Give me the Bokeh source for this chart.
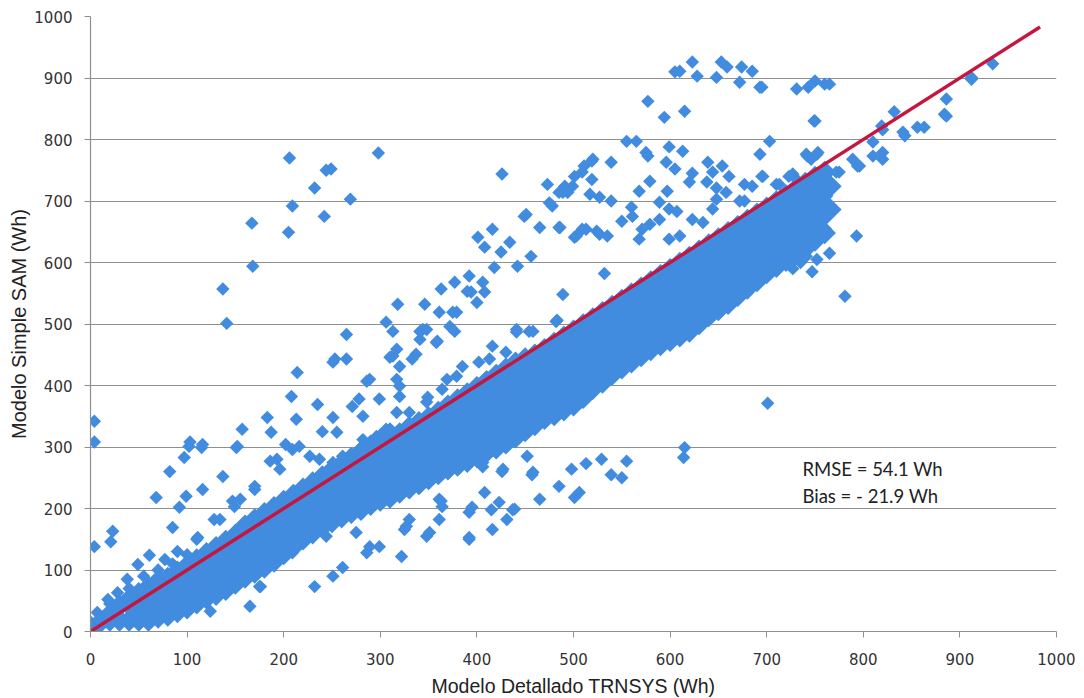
import math
from bokeh.plotting import figure
from bokeh.models import ColumnDataSource, FixedTicker, Range1d
from bokeh.core.properties import value
from bokeh.embed import file_html
from bokeh.resources import INLINE

# ---------------- data ----------------
x_ticks = [0, 100, 200, 300, 400, 500, 600, 700, 800, 900, 1000]
y_ticks = [0, 100, 200, 300, 400, 500, 600, 700, 800, 900, 1000]

# dense core of the cloud: x positions and the y values observed at each x
core_cols = [0, 10, 20, 30, 40, 50, 60, 70, 80, 90, 100, 110, 120, 130, 140, 150,
             160, 170, 180, 190, 200, 210, 220, 230, 240, 250, 260, 270, 280, 290,
             300, 310, 320, 330, 340, 350, 360, 370, 380, 390, 400, 410, 420, 430,
             440, 450, 460, 470, 480, 490, 500, 510, 520, 530, 540, 550, 560, 570,
             580, 590, 600, 610, 620, 630, 640, 650, 660, 670, 680, 690, 700, 710,
             720, 730, 740, 750, 760]
core_rows = [
    [8], [15], [18, 28], [18, 42], [18, 52], [18, 37, 62], [18, 50, 72],
    [23, 42, 82], [26, 56, 87], [32, 51, 80, 97], [38, 72, 107],
    [46, 65, 95, 117], [54, 90, 127], [60, 79, 110, 137], [68, 106, 130, 147],
    [78, 97, 127, 157], [88, 122, 150, 172], [96, 115, 150, 182],
    [104, 140, 170, 192], [114, 133, 168, 202], [126, 162, 190, 212],
    [138, 157, 190, 222], [150, 186, 214, 232], [160, 179, 212, 242],
    [170, 206, 234, 252], [178, 197, 230, 262], [186, 222, 252, 272],
    [193, 212, 248, 282], [198, 234, 266, 292], [206, 225, 258, 282, 302],
    [213, 249, 283, 312], [218, 237, 272, 305, 322], [226, 262, 296, 322],
    [233, 252, 288, 316, 332], [240, 276, 310, 340], [248, 267, 302, 330, 348],
    [256, 292, 326, 357], [264, 283, 318, 350, 367], [270, 306, 342, 377],
    [276, 295, 330, 362, 387], [284, 320, 358, 397], [292, 311, 346, 380, 407],
    [298, 334, 370, 400, 417], [306, 325, 360, 396, 427], [316, 352, 388, 420, 437],
    [326, 345, 380, 414, 444], [336, 372, 408, 432, 450], [346, 365, 400, 434, 459],
    [352, 394, 430, 452, 469], [360, 387, 422, 456, 479], [368, 414, 450, 472, 489],
    [380, 410, 448, 476, 499], [395, 441, 479, 509], [405, 432, 470, 500, 519],
    [418, 461, 499, 529], [428, 449, 487, 515, 539], [438, 476, 514, 549],
    [448, 467, 505, 535, 559], [458, 496, 534, 569], [466, 485, 523, 555, 579],
    [473, 511, 549, 589], [480, 499, 537, 572, 599], [488, 525, 562, 590, 609],
    [500, 519, 557, 595, 619], [513, 551, 589, 629], [523, 542, 580, 612, 639],
    [533, 571, 609, 649], [546, 565, 603, 635, 659], [558, 596, 634, 669],
    [570, 589, 627, 657, 679], [583, 621, 659, 689], [593, 612, 650, 680, 699],
    [603, 641, 679, 709], [613, 632, 670, 700, 719], [623, 661, 699, 729],
    [636, 655, 693, 720, 739], [648, 686, 724, 747],
]

# scattered points, upper left part (TRNSYS < 200 Wh)
ul_x = [4, 4, 4, 23, 21, 68, 82, 97, 102, 115, 116, 99, 116, 92, 137, 85, 110, 90,
        77, 49, 61, 38, 28, 7, 18, 128, 149, 155, 170, 186, 152, 103, 111, 157, 151,
        183, 187, 193, 196, 170, 147, 134, 137, 141, 168, 167, 70, 55, 40, 20, 85, 100]
ul_y = [342, 308, 138, 163, 146, 218, 260, 283, 301, 299, 304, 220, 231, 202, 252,
        169, 150, 130, 117, 109, 124, 85, 63, 31, 52, 182, 203, 215, 231, 277, 301,
        308, 153, 329, 299, 348, 324, 280, 264, 236, 212, 182, 557, 501, 594, 664,
        100, 90, 70, 45, 110, 125]

# scattered points, upper middle part (200 - 500 Wh)
um_x = [202, 208, 213, 214, 235, 251, 255, 265, 251, 289, 271, 282, 299, 313, 333,
        341, 358, 348, 416, 441, 289, 306, 320, 209, 206, 298, 244, 232, 209, 269,
        242, 205, 426, 473, 489, 483, 401, 416, 408, 425, 434, 418, 442, 456, 449,
        465, 486, 478, 494, 392, 406, 394, 400, 408, 377, 363, 346, 361, 375, 318,
        306, 348, 265, 390, 313, 377, 341, 359, 441, 454, 317, 310, 320, 337, 344,
        372, 379, 430, 458, 482, 385, 402, 413, 369, 349, 364, 379, 286, 278, 240,
        317, 320, 330, 317, 216, 227, 237, 251, 261, 282, 296, 253, 249]
um_y = [304, 382, 345, 421, 369, 348, 324, 443, 438, 410, 366, 350, 378, 448, 443,
        475, 470, 373, 464, 487, 268, 329, 399, 296, 770, 778, 750, 721, 692, 703,
        675, 649, 744, 727, 548, 506, 641, 654, 625, 617, 633, 592, 594, 610, 675,
        657, 657, 692, 714, 578, 568, 552, 535, 552, 568, 557, 532, 519, 519, 532,
        503, 491, 483, 553, 488, 488, 488, 472, 491, 488, 459, 446, 431, 451, 491,
        496, 519, 454, 488, 504, 431, 438, 443, 410, 381, 394, 415, 407, 378, 325,
        410, 382, 356, 356, 301, 285, 280, 275, 285, 312, 317, 443, 752]

# scattered points, upper right part (> 500 Wh)
ur_x = [501, 501, 532, 451, 475, 489, 499, 509, 519, 503, 513, 527, 605, 623, 628,
        610, 648, 653, 659, 674, 685, 672, 693, 731, 743, 750, 760, 765, 577, 594,
        615, 750, 555, 565, 575, 599, 613, 577, 703, 693, 741, 752, 746, 520, 539,
        511, 491, 519, 517, 527, 539, 596, 605, 623, 620, 639, 644, 654, 661, 638,
        648, 658, 677, 685, 696, 710, 723, 731, 579, 568, 597, 589, 599, 607, 560,
        561, 550, 571, 568, 579, 589, 599, 610, 623, 634, 648, 644, 672, 509, 524,
        535, 485, 485, 793, 781, 832, 856, 886, 884, 912, 934, 819, 843, 789, 810,
        820, 794, 772, 758, 762, 758, 695, 749, 742, 753, 695, 727, 713, 677, 729,
        729, 758, 755, 765, 775, 796, 820, 810, 820, 841, 863, 886, 912, 741, 752,
        765, 735, 722, 727, 747]
ur_y = [740, 641, 582, 678, 697, 714, 724, 747, 765, 643, 654, 646, 910, 926, 903,
        911, 901, 926, 918, 918, 911, 893, 885, 882, 885, 895, 890, 890, 862, 836,
        846, 830, 797, 797, 779, 788, 781, 773, 797, 776, 776, 776, 768, 768, 763,
        757, 724, 735, 711, 706, 700, 763, 752, 745, 731, 763, 747, 757, 740, 731,
        721, 714, 727, 724, 740, 727, 740, 735, 732, 716, 716, 698, 687, 683, 690,
        675, 667, 654, 638, 662, 670, 638, 643, 670, 665, 703, 687, 700, 654, 651,
        643, 657, 714, 643, 545, 845, 820, 866, 841, 901, 923, 822, 806, 768, 773,
        768, 757, 747, 735, 708, 692, 885, 830, 773, 779, 740, 744, 727, 700, 670,
        635, 683, 708, 724, 747, 757, 779, 796, 816, 812, 820, 838, 898, 610, 605,
        615, 600, 598, 590, 585]

# scattered points below the main band
lo_x = [701, 615, 614, 498, 513, 529, 539, 550, 555, 501, 506, 485, 392, 431, 423,
        437, 415, 395, 364, 408, 465, 458, 452, 427, 406, 361, 330, 325, 348, 322,
        286, 299, 261, 232, 175, 165, 251, 327, 351, 392, 361, 416, 439, 426, 457,
        406, 363, 392, 275, 289, 244, 209, 124, 176]
lo_y = [371, 299, 283, 264, 273, 280, 255, 250, 277, 218, 226, 236, 153, 182, 210,
        198, 198, 202, 203, 226, 215, 259, 285, 264, 275, 215, 182, 166, 155, 122,
        128, 138, 104, 73, 73, 41, 90, 171, 161, 150, 182, 166, 199, 260, 255,
        268, 212, 194, 161, 138, 155, 128, 33, 73]

# 1:1 reference line
line_x = [0, 983]
line_y = [0, 983]

stats_text = ["RMSE = 54.1 Wh", "Bias = - 21.9 Wh"]
stats_x = [737, 737]
stats_y = [264, 220]

# ---------------- build ----------------
BLUE = "#428CE0"
RED = "#C3173F"
GRID = "#8F8F8F"

# edge points of each core column (outermost) and interior points
edge_x, edge_y, inner_x, inner_y = [], [], [], []
for cx, ys in zip(core_cols, core_rows):
    for k, cy in enumerate(ys):
        if k == 0 or k == len(ys) - 1:
            edge_x.append(cx)
            edge_y.append(cy)
        else:
            inner_x.append(cx)
            inner_y.append(cy)

pts_x = ul_x + um_x + ur_x + lo_x
pts_y = ul_y + um_y + ur_y + lo_y

p = figure(frame_width=966, frame_height=615, output_backend="svg",
           toolbar_location=None,
           x_range=Range1d(0, 1000), y_range=Range1d(0, 1000),
           min_border_left=90, min_border_right=19, min_border_top=16,
           min_border_bottom=50)
p.outline_line_color = None
p.background_fill_color = "white"
p.border_fill_color = "white"

p.scatter(x="x", y="y", source=ColumnDataSource(dict(x=inner_x, y=inner_y)),
          marker="square", angle=math.pi / 4, size=24,
          fill_color=BLUE, line_color=None)
p.scatter(x="x", y="y", source=ColumnDataSource(dict(x=edge_x, y=edge_y)),
          marker="square", angle=math.pi / 4, size=16,
          fill_color=BLUE, line_color=None)
p.scatter(x="x", y="y", source=ColumnDataSource(dict(x=pts_x, y=pts_y)),
          marker="square", angle=math.pi / 4, size=9.5,
          fill_color=BLUE, line_color=None)
p.line(line_x, line_y, line_color=RED, line_width=3.5)

p.text(x=stats_x, y=stats_y, text=stats_text, text_font=value("Lato"),
       text_font_size="18.5px", text_color="#222222", text_baseline="middle",
       text_align="left")

# grid
p.xgrid.grid_line_color = None
p.ygrid.grid_line_color = GRID
p.ygrid.grid_line_width = 1.2
p.ygrid.ticker = FixedTicker(ticks=y_ticks)

for ax in (p.xaxis[0], p.yaxis[0]):
    ax.axis_line_color = GRID
    ax.axis_line_width = 1.2
    ax.major_tick_line_color = GRID
    ax.major_tick_in = 0
    ax.major_tick_out = 6
    ax.minor_tick_line_color = None
    ax.major_label_text_font = "DejaVu Sans"
    ax.major_label_text_font_size = "15px"
    ax.major_label_text_color = "#333333"
    ax.axis_label_text_font = "Liberation Sans"
    ax.axis_label_text_font_style = "normal"
    ax.axis_label_text_color = "#222222"

p.xaxis[0].axis_label_text_font_size = "19.5px"
p.yaxis[0].axis_label_text_font_size = "20px"
p.xaxis[0].ticker = FixedTicker(ticks=x_ticks)
p.yaxis[0].ticker = FixedTicker(ticks=y_ticks)
p.xaxis[0].axis_label = "Modelo Detallado TRNSYS (Wh)"
p.yaxis[0].axis_label = "Modelo Simple SAM (Wh)"
p.xaxis[0].major_label_standoff = 15
p.yaxis[0].major_label_standoff = 12
p.xaxis[0].axis_label_standoff = 7
p.yaxis[0].axis_label_standoff = 1

open("out.html", "w").write(file_html(p, INLINE))
